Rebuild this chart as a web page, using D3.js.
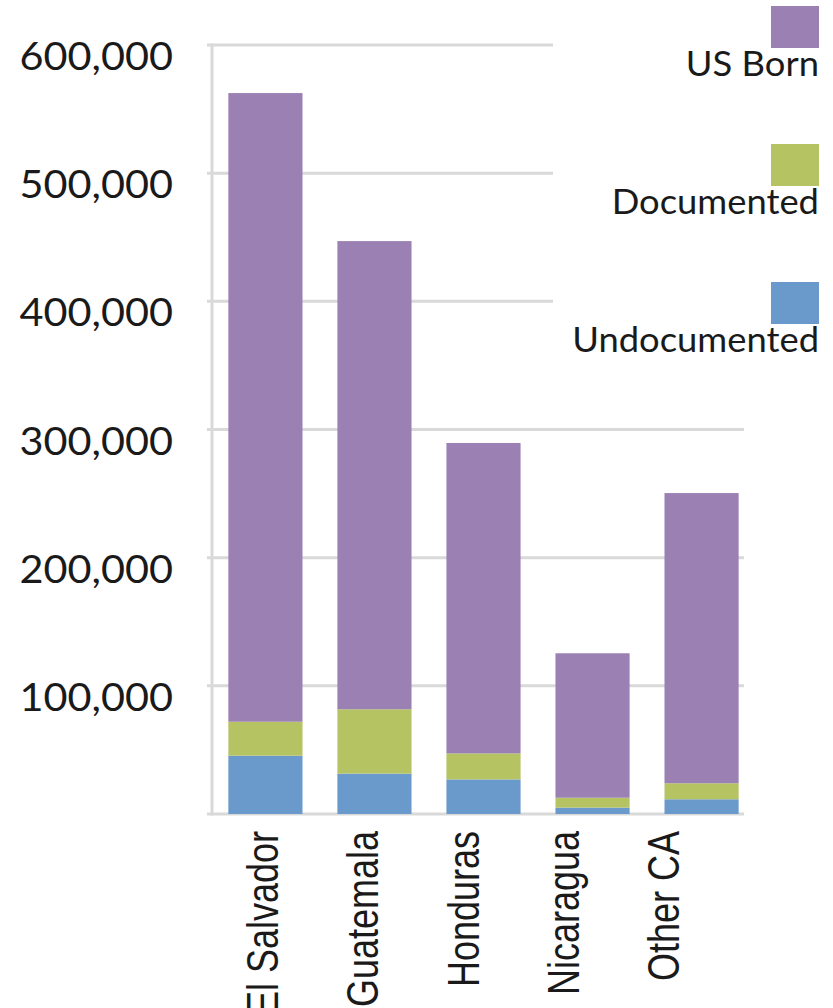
<!DOCTYPE html>
<html>
<head>
<meta charset="utf-8">
<script src="https://cdn.jsdelivr.net/npm/d3@7"></script>
<style>
  body { margin: 0; background: #fff; }
  svg { display: block; }
</style>
</head>
<body>
<svg id="chart" width="833" height="1008"></svg>
<script>
const countries = ['El Salvador', 'Guatemala', 'Honduras', 'Nicaragua', 'Other CA']
const undocumented = [45500, 31500, 27000, 5000, 11500]
const documented = [26500, 50200, 20300, 7700, 12500]
const usBorn = [490500, 365300, 242200, 112700, 226400]
const yTicks = [0, 100000, 200000, 300000, 400000, 500000, 600000]
const seriesNames = ['Undocumented', 'Documented', 'US Born']
const colors = ['#6a99cb', '#b5c362', '#9b80b4']

const rows = countries.map((c, i) => ({
	country: c,
	'Undocumented': undocumented[i],
	'Documented': documented[i],
	'US Born': usBorn[i]
}))

const svg = d3.select('#chart')

const xScale = d3.scaleBand()
	.domain(countries)
	.range([212, 755])
	.paddingInner(0.32)
	.paddingOuter(0.15)

// the category labels sit on a tighter spacing than the bars in the source
const labelScale = d3.scalePoint()
	.domain(countries)
	.range([278, 679])

const yScale = d3.scaleLinear()
	.domain([0, 600000])
	.range([814, 45])

const grid = '#d9d9d9'

// gridlines - upper ones stop short of the legend
svg.append('g')
	.selectAll('line')
	.data(yTicks)
	.join('line')
	.attr('x1', 207)
	.attr('x2', d => d >= 400000 ? 553 : 744)
	.attr('y1', d => yScale(d))
	.attr('y2', d => yScale(d))
	.attr('stroke', grid)
	.attr('stroke-width', 3)

svg.append('line')
	.attr('x1', 212).attr('x2', 212)
	.attr('y1', yScale(600000) - 1.5).attr('y2', yScale(0) + 1.5)
	.attr('stroke', grid)
	.attr('stroke-width', 3)

// y labels (source font is a bit wider than Lato, so stretch it)
svg.append('g')
	.selectAll('text')
	.data(yTicks.filter(d => d > 0))
	.join('text')
	.attr('transform', d => `translate(173,${yScale(d) + 25}) scale(1.09,1)`)
	.attr('text-anchor', 'end')
	.attr('font-family', 'Lato, sans-serif')
	.attr('font-size', 38)
	.attr('fill', '#1a1a1a')
	.text(d => d3.format(',')(d))

// stacked bars
const stack = d3.stack().keys(seriesNames)(rows)

svg.append('g')
	.selectAll('g')
	.data(stack)
	.join('g')
	.attr('fill', (d, i) => colors[i])
	.selectAll('rect')
	.data(d => d)
	.join('rect')
	.attr('x', d => xScale(d.data.country))
	.attr('width', xScale.bandwidth())
	.attr('y', d => yScale(d[1]))
	.attr('height', d => yScale(d[0]) - yScale(d[1]))

// x labels, rotated, glyphs stretched across
svg.append('g')
	.selectAll('text')
	.data(countries)
	.join('text')
	.attr('transform', d => `translate(${labelScale(d)},831) rotate(-90) scale(1,1.25)`)
	.attr('text-anchor', 'end')
	.attr('font-family', '"Liberation Sans", Arial, sans-serif')
	.attr('font-size', 36)
	.attr('fill', '#1a1a1a')
	.text(d => d)

// legend
const legendNames = ['US Born', 'Documented', 'Undocumented']
const legendColors = ['#9b80b4', '#b5c362', '#6a99cb']

const legend = svg.append('g')
	.selectAll('g')
	.data(legendNames)
	.join('g')
	.attr('transform', (d, i) => `translate(0,${i * 138})`)

legend.append('rect')
	.attr('x', 771)
	.attr('y', 6)
	.attr('width', 48)
	.attr('height', 42)
	.attr('fill', (d, i) => legendColors[i])

legend.append('text')
	.attr('transform', `translate(819,76) scale(1.07,1)`)
	.attr('text-anchor', 'end')
	.attr('font-family', 'Lato, sans-serif')
	.attr('font-size', 34)
	.attr('fill', '#1a1a1a')
	.text(d => d)
</script>
</body>
</html>
